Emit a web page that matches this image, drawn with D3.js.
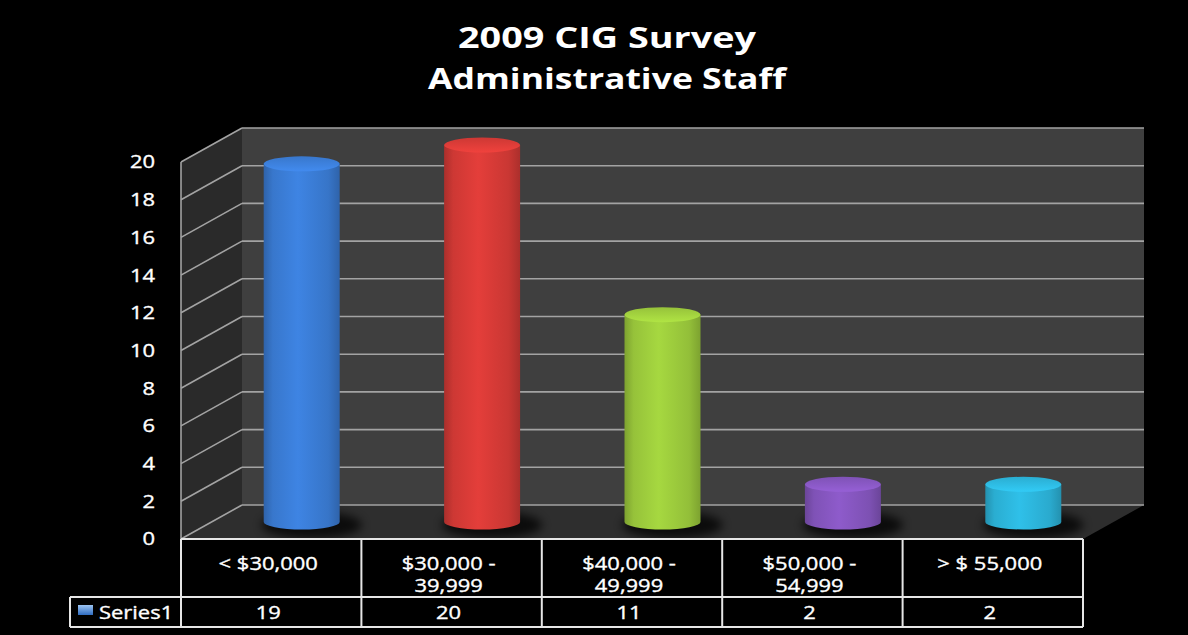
<!DOCTYPE html>
<html>
<head>
<meta charset="utf-8">
<script src="https://cdn.jsdelivr.net/npm/d3@7"></script>
<style>
  html, body { margin: 0; padding: 0; background: #000; }
  svg { display: block; }
  text { font-family: "Open Sans", "DejaVu Sans", sans-serif; fill: #fff; }
</style>
</head>
<body>
<svg id="chart" width="1188" height="635"></svg>
<script>
// Salary bands and staff counts
const categories = ["< $30,000", "$30,000 - 39,999", "$40,000 - 49,999", "$50,000 - 54,999", "> $ 55,000"];
const categoryLines = [["< $30,000"], ["$30,000 -", "39,999"], ["$40,000 -", "49,999"], ["$50,000 -", "54,999"], ["> $ 55,000"]];
const values = [19, 20, 11, 2, 2];
const seriesName = "Series1";
const yTicks = [0, 2, 4, 6, 8, 10, 12, 14, 16, 18, 20];
const barColors = ["#3a7bd3", "#d43a36", "#9bc93c", "#8455bd", "#2cb3d9"];
const titleLines = ["2009 CIG Survey", "Administrative Staff"];

const svg = d3.select("#chart");
const W = 1188, H = 635;
const TEXT_STRETCH = 1.22;   // wide label face
const LABEL_SIZE = 18;

svg.append("rect").attr("width", W).attr("height", H).attr("fill", "#000");

// Front plane of the 3D box; the back plane is offset by the depth vector
const x = d3.scaleBand().domain(categories).range([181, 1083]).padding(0);
const y = d3.scaleLinear().domain([0, 20]).range([539, 162]);
const DX = 61, DY = -34;

const defs = svg.append("defs");

// Soft shadow under each cylinder
const blur = defs.append("filter").attr("id", "shadowBlur")
  .attr("x", "-50%").attr("y", "-100%").attr("width", "200%").attr("height", "300%");
blur.append("feGaussianBlur").attr("stdDeviation", 5);

// Horizontal shading for the cylinder bodies and caps
function addGradients(color, i) {
  const c = d3.color(color);
  const body = defs.append("linearGradient").attr("id", "body" + i)
    .attr("x1", "0%").attr("x2", "100%").attr("y1", "0%").attr("y2", "0%");
  body.append("stop").attr("offset", "0%").attr("stop-color", c.darker(0.6));
  body.append("stop").attr("offset", "12%").attr("stop-color", c.darker(0.1));
  body.append("stop").attr("offset", "45%").attr("stop-color", c.brighter(0.2));
  body.append("stop").attr("offset", "85%").attr("stop-color", c.darker(0.15));
  body.append("stop").attr("offset", "100%").attr("stop-color", c.darker(0.6));
  const cap = defs.append("linearGradient").attr("id", "cap" + i)
    .attr("x1", "0%").attr("x2", "0%").attr("y1", "0%").attr("y2", "100%");
  cap.append("stop").attr("offset", "0%").attr("stop-color", c.darker(0.1));
  cap.append("stop").attr("offset", "100%").attr("stop-color", c.brighter(0.35));
}
barColors.forEach(addGradients);

// Legend key gradient
const key = defs.append("linearGradient").attr("id", "keyGrad")
  .attr("x1", "0%").attr("x2", "0%").attr("y1", "0%").attr("y2", "100%");
key.append("stop").attr("offset", "0%").attr("stop-color", "#9cc4f2");
key.append("stop").attr("offset", "100%").attr("stop-color", "#2f6cc0");

// Horizontally stretched label placed at (px, py)
function label(parent, px, py, anchor) {
  return parent.append("g")
    .attr("transform", `translate(${px},${py}) scale(${TEXT_STRETCH},1)`)
    .append("text")
    .attr("x", 0).attr("y", 0)
    .attr("text-anchor", anchor)
    .attr("font-size", LABEL_SIZE)
    .attr("stroke", "#fff").attr("stroke-width", 0.35);
}

// Title
const title = svg.append("g");
titleLines.forEach((t, i) => {
  title.append("text")
    .attr("x", 607).attr("y", 48 + i * 41)
    .attr("text-anchor", "middle")
    .attr("font-size", 29).attr("font-weight", "bold")
    .attr("textLength", i === 0 ? 298 : 358)
    .attr("lengthAdjust", "spacingAndGlyphs")
    .text(t);
});

const x0 = x.range()[0], x1 = x.range()[1];
const y0 = y(0), yTop = y(20);

// Back wall
svg.append("rect")
  .attr("x", x0 + DX).attr("y", yTop + DY)
  .attr("width", x1 - x0).attr("height", y0 - yTop)
  .attr("fill", "#3f3f3f");

// Side wall
svg.append("path")
  .attr("d", `M${x0},${y0} L${x0},${yTop} L${x0 + DX},${yTop + DY} L${x0 + DX},${y0 + DY} Z`)
  .attr("fill", "#2a2a2a");

// Floor
svg.append("path")
  .attr("d", `M${x0},${y0} L${x0 + DX},${y0 + DY} L${x1 + DX},${y0 + DY} L${x1},${y0} Z`)
  .attr("fill", "#2e2e2e");

// Gridlines on back and side walls
const grid = svg.append("g").attr("stroke", "#a3a3a3").attr("stroke-width", 1.6).attr("fill", "none");
yTicks.forEach(v => {
  grid.append("line")
    .attr("x1", x0 + DX).attr("x2", x1 + DX)
    .attr("y1", y(v) + DY).attr("y2", y(v) + DY);
  grid.append("line")
    .attr("x1", x0).attr("x2", x0 + DX)
    .attr("y1", y(v)).attr("y2", y(v) + DY);
});
// Front edge of the side wall
grid.append("line").attr("x1", x0).attr("x2", x0).attr("y1", yTop).attr("y2", y0);

// Y-axis labels: positions from an axis generator, drawn as stretched text
const yAxis = d3.axisLeft(y).tickValues(yTicks).tickSize(0);
const yAxisG = svg.append("g").call(yAxis);
const yTickData = [];
yAxisG.selectAll(".tick").each(function (d) { yTickData.push(d); });
yAxisG.remove();
const yLabels = svg.append("g");
yTickData.forEach(v => {
  label(yLabels, x0 - 26, y(v), "end").attr("dy", "0.36em").text(v);
});

// Cylinders
const RX = 38, RY = 7.5;
const bars = svg.append("g");
categories.forEach((c, i) => {
  const cx = x(c) + x.bandwidth() / 2 + DX / 2;
  const yb = y(0) + DY / 2;
  const yt = y(values[i]) + DY / 2;
  // shadow
  bars.append("ellipse")
    .attr("cx", cx + 10).attr("cy", yb + 3)
    .attr("rx", RX + 12).attr("ry", RY + 6)
    .attr("fill", "#000").attr("opacity", 0.75)
    .attr("filter", "url(#shadowBlur)");
  // body
  bars.append("path")
    .attr("d", `M${cx - RX},${yt} L${cx - RX},${yb} A${RX},${RY} 0 0 0 ${cx + RX},${yb} L${cx + RX},${yt} Z`)
    .attr("fill", `url(#body${i})`);
  // top cap
  bars.append("ellipse")
    .attr("cx", cx).attr("cy", yt)
    .attr("rx", RX).attr("ry", RY)
    .attr("fill", `url(#cap${i})`);
});

// Data table under the chart
const table = svg.append("g");
const rowTop = y0, rowMid = 597, rowBot = 627, legendLeft = 70;
const tbl = table.append("g").attr("stroke", "#e6e6e6").attr("stroke-width", 2).attr("fill", "none");
tbl.append("line").attr("x1", x0).attr("x2", x1).attr("y1", rowTop).attr("y2", rowTop);
tbl.append("line").attr("x1", legendLeft).attr("x2", x1).attr("y1", rowMid).attr("y2", rowMid);
tbl.append("line").attr("x1", legendLeft).attr("x2", x1).attr("y1", rowBot).attr("y2", rowBot);
tbl.append("line").attr("x1", legendLeft).attr("x2", legendLeft).attr("y1", rowMid).attr("y2", rowBot);
categories.forEach(c => {
  tbl.append("line").attr("x1", x(c)).attr("x2", x(c)).attr("y1", rowTop).attr("y2", rowBot);
});
tbl.append("line").attr("x1", x1).attr("x2", x1).attr("y1", rowTop).attr("y2", rowBot);

categories.forEach((c, i) => {
  const cx = x(c) + x.bandwidth() / 2 - 3;
  const t = label(table, cx, 570, "middle");
  categoryLines[i].forEach((ln, j) => {
    t.append("tspan").attr("x", 0).attr("dy", j === 0 ? 0 : 22).text(ln);
  });
  label(table, cx, 619, "middle").text(values[i]);
});

// Legend key and series label
table.append("rect")
  .attr("x", 78).attr("y", 605).attr("width", 15).attr("height", 10)
  .attr("fill", "url(#keyGrad)");
label(table, 99, 619, "start").text(seriesName);
</script>
</body>
</html>
